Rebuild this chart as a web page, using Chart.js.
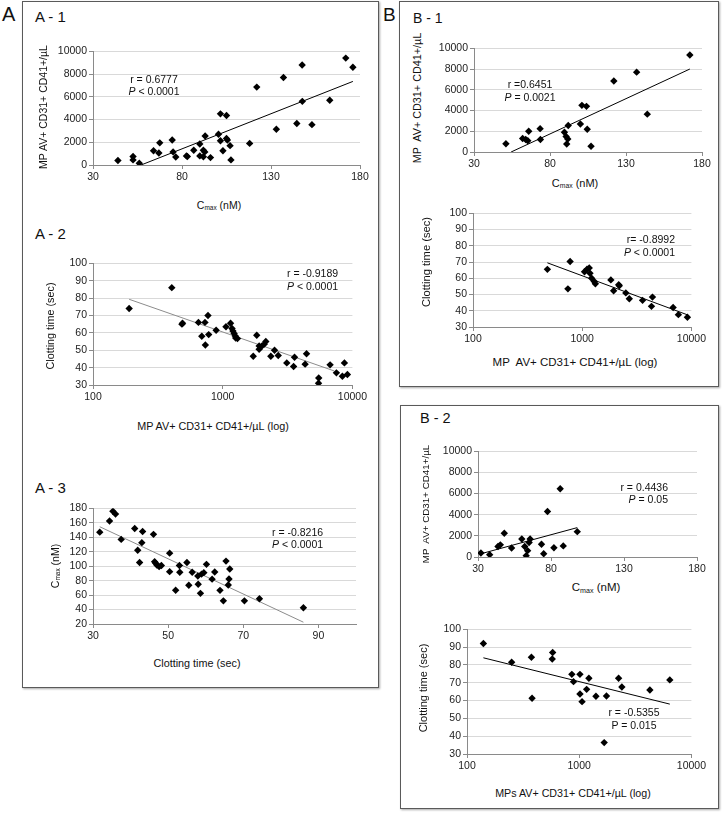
<!DOCTYPE html>
<html>
<head>
<meta charset="utf-8">
<script src="https://cdn.jsdelivr.net/npm/chart.js@4.4.1/dist/chart.umd.min.js"></script>
<style>
  html, body { margin:0; padding:0; background:#fff; }
  body { width:722px; height:816px; position:relative; overflow:hidden; font-family:'Liberation Sans', Arial, sans-serif; color:#111; }
  .box { position:absolute; border:1px solid #5a5a5a; box-shadow:1px 1px 2px rgba(0,0,0,0.35); background:#fff; }
  .t { position:absolute; white-space:nowrap; line-height:1; }
  .rot { transform:translate(-50%,-50%) rotate(-90deg); }
  sub { font-size:62%; vertical-align:-0.25em; line-height:0; }
  canvas { position:absolute; }
</style>
</head>
<body>
<div class="box" style="left:22px;top:1px;width:355px;height:685px;"></div>
<div class="box" style="left:399px;top:1px;width:318px;height:384px;"></div>
<div class="box" style="left:400px;top:405px;width:317px;height:402px;"></div>
<script>
// ---------------- DATA ----------------
// A-1: Cmax (nM) vs MP AV+ CD31+ CD41+/µL
const a1X = [44, 52.5, 52.5, 56, 64, 67, 67.5, 74.5, 75, 76.5, 82.5, 83, 86.6, 90, 90, 92, 92, 92.8, 93, 96, 100.5, 101.6, 101.6, 103, 105, 105, 105.5, 107, 107.5, 118, 122, 133, 137, 144.5, 147.5, 147.6, 153, 163, 172, 176];
const a1Y = [400, 750, 450, 150, 1250, 1050, 1950, 2200, 1150, 700, 800, 750, 1300, 1850, 800, 1300, 730, 1150, 2550, 650, 2700, 4500, 2130, 1250, 4350, 2330, 2190, 1700, 450, 1900, 6850, 3150, 7700, 3650, 8800, 5600, 3550, 5700, 9400, 8600];
const a1TrendX = [57, 176];
const a1TrendY = [0, 7350];

// A-2: MP (log) vs clotting time
const a2X = [190, 405, 485, 490, 650, 730, 770, 690, 735, 780, 890, 1060, 1150, 1180, 1200, 1225, 1250, 1300, 1260, 1830, 1720, 1910, 1910, 2010, 2150, 2090, 2350, 2510, 2680, 3120, 3520, 3580, 4320, 4430, 5500, 5480, 6730, 7530, 8370, 8680, 9150];
const a2Y = [74, 86, 65, 65.5, 66, 66, 70, 58, 53, 59, 61.5, 63.5, 65.5, 62.5, 61, 59.6, 58.2, 56.7, 57, 58.6, 46.5, 50.5, 52.5, 52.5, 55, 53.5, 46.5, 50, 47, 42.7, 40.6, 46, 42, 48, 34, 31, 41.6, 37, 35, 42.7, 36];
const a2TrendX = [190, 7230];
const a2TrendY = [79.3, 38.1];

// A-3: clotting time vs Cmax
const a3X = [31.8, 34.4, 35.3, 36, 37.5, 41.1, 43.2, 41.9, 42.4, 43, 46.1, 46.4, 46.7, 47, 47.6, 48.2, 50.4, 50.4, 52, 53, 53.1, 55, 55.5, 56.4, 57.9, 58, 58.6, 58.9, 59.5, 60.2, 61.7, 62.4, 63.8, 64.7, 65.4, 66, 66.2, 66.4, 70.3, 74.3, 86];
const a3Y = [147, 162.5, 176, 172, 137, 152, 148, 122, 105, 132.5, 144, 106, 104, 101.6, 99.3, 101, 118, 92.4, 66.6, 101, 91.5, 105, 73.5, 91.5, 86.4, 75, 62.4, 89, 91, 102.5, 82, 92, 66.5, 52, 107, 74, 82.3, 96, 52, 55, 42.5];
const a3TrendX = [31.8, 86];
const a3TrendY = [154.5, 22.5];

// B-1 (upper): Cmax vs MP
const b1aX = [51, 62, 64, 66, 65.4, 73.5, 73.7, 89.5, 90.6, 91, 91.7, 92, 100, 101, 104, 104.5, 107, 122, 137, 144, 172];
const b1aY = [800, 1300, 1200, 2000, 1090, 2250, 1200, 1900, 1500, 770, 1250, 2550, 2700, 4500, 4400, 2200, 550, 6850, 7700, 3650, 9350];
const b1aTrendX = [54.4, 172];
const b1aTrendY = [0, 8000];

// B-1 (lower): MP (log) vs clotting time
const b1bX = [480, 740, 775, 1050, 1107, 1160, 1178, 1220, 1290, 1320, 1830, 1940, 2185, 2160, 2510, 2700, 3570, 4400, 4310, 6800, 7600, 9190];
const b1bY = [65.5, 53.5, 70.3, 64, 65.6, 66.4, 63.1, 60, 58, 56.6, 59, 52.3, 55.4, 56, 51, 47.4, 46.4, 48.4, 42.7, 42, 37.6, 36];
const b1bTrendX = [480, 9190];
const b1bTrendY = [69.5, 37.5];

// B-2 (upper): Cmax vs MP
const b2aX = [32, 38, 43.7, 45.3, 48, 53, 60, 62, 63, 64, 65, 65.7, 73.5, 75, 77.6, 82, 86.3, 88.4, 98];
const b2aY = [375, 220, 1000, 1150, 2250, 850, 1700, 1000, 130, 600, 1375, 1700, 1200, 310, 4300, 875, 6450, 1050, 2400];
const b2aTrendX = [31.8, 98];
const b2aTrendY = [300, 2780];

// B-2 (lower): MPs (log) vs clotting time
const b2bX = [140, 250, 375, 380, 580, 575, 860, 890, 1015, 1016, 1060, 1165, 1220, 1410, 1750, 1670, 2245, 2400, 4265, 6420];
const b2bY = [92, 81.5, 84.3, 61.3, 87, 83.3, 74.7, 70.6, 74.7, 63.7, 59.4, 66.3, 72.5, 62.4, 62.6, 36.4, 72.5, 67.6, 65.9, 71.6];
const b2bTrendX = [140, 6420];
const b2bTrendY = [84, 58];

// Tick labels
const cmaxTicks = [30, 80, 130, 180];
const mpTicks = [0, 2000, 4000, 6000, 8000, 10000];
const logTicks = [100, 1000, 10000];
const ctTicks = [30, 40, 50, 60, 70, 80, 90, 100];
const ctTicksA3 = [30, 50, 70, 90];
const cmaxTicksA3 = [20, 40, 60, 80, 100, 120, 140, 160, 180];

// ---------------- DRAWING ----------------
const FONT = "'Liberation Sans', Arial, sans-serif";
const PAD_L = 48, PAD_T = 8, PAD_R = 16, PAD_B = 24;

function pts(xs, ys) { return xs.map((x, i) => ({ x: x, y: ys[i] })); }

function makeChart(plot, xs, ys, tx, ty, xAx, yAx, trendColor) {
  const cv = document.createElement('canvas');
  const left = plot.l - PAD_L, top = plot.t - PAD_T;
  const w = plot.r - left + PAD_R, h = plot.b - top + PAD_B;
  cv.style.left = left + 'px'; cv.style.top = top + 'px';
  cv.style.width = w + 'px'; cv.style.height = h + 'px';
  cv.width = w; cv.height = h;
  document.body.appendChild(cv);
  const tickFont = { family: FONT, size: 10.5 };
  new Chart(cv, {
    type: 'scatter',
    data: {
      datasets: [
        { data: pts(xs, ys), pointStyle: 'rectRot', pointRadius: 3.7, pointHoverRadius: 3.7,
          backgroundColor: '#000', borderColor: '#000', borderWidth: 0, order: 0 },
        { data: pts(tx, ty), showLine: true, pointRadius: 0, borderColor: trendColor,
          borderWidth: 1, fill: false, order: 1 }
      ]
    },
    options: {
      responsive: false, animation: false, maintainAspectRatio: false,
      layout: { padding: { left: 0, top: PAD_T, right: PAD_R, bottom: 0 } },
      plugins: { legend: { display: false }, tooltip: { enabled: false } },
      scales: {
        x: {
          type: xAx.type, min: xAx.min, max: xAx.max,
          afterBuildTicks: s => { s.ticks = xAx.ticks.map(v => ({ value: v })); },
          afterFit: s => { s.height = PAD_B; },
          grid: { drawOnChartArea: false, drawTicks: true, tickLength: 4, tickColor: '#8a8a8a' },
          border: { display: true, color: '#8a8a8a', width: 1 },
          ticks: { font: tickFont, color: '#222', padding: 2, maxRotation: 0, autoSkip: false,
                   callback: v => String(v) }
        },
        y: {
          type: 'linear', min: yAx.min, max: yAx.max,
          afterBuildTicks: s => { s.ticks = yAx.ticks.map(v => ({ value: v })); },
          afterFit: s => { s.width = PAD_L; },
          grid: { color: '#d9d9d9', drawTicks: true, tickLength: 4, tickColor: '#8a8a8a' },
          border: { display: true, color: '#8a8a8a', width: 1 },
          ticks: { font: tickFont, color: '#222', padding: 2, autoSkip: false,
                   callback: v => String(v) }
        }
      }
    }
  });
}

makeChart({ l: 93, t: 51, r: 360, b: 165 }, a1X, a1Y, a1TrendX, a1TrendY,
  { type: 'linear', min: 30, max: 180, ticks: cmaxTicks }, { min: 0, max: 10000, ticks: mpTicks }, '#000');
makeChart({ l: 93, t: 263, r: 353, b: 385 }, a2X, a2Y, a2TrendX, a2TrendY,
  { type: 'logarithmic', min: 100, max: 10000, ticks: logTicks }, { min: 30, max: 100, ticks: ctTicks }, '#8c8c8c');
makeChart({ l: 93, t: 508, r: 356, b: 624 }, a3X, a3Y, a3TrendX, a3TrendY,
  { type: 'linear', min: 30, max: 100, ticks: ctTicksA3 }, { min: 20, max: 180, ticks: cmaxTicksA3 }, '#8c8c8c');
makeChart({ l: 474, t: 48, r: 702, b: 152 }, b1aX, b1aY, b1aTrendX, b1aTrendY,
  { type: 'linear', min: 30, max: 180, ticks: cmaxTicks }, { min: 0, max: 10000, ticks: mpTicks }, '#000');
makeChart({ l: 473, t: 213, r: 692, b: 327 }, b1bX, b1bY, b1bTrendX, b1bTrendY,
  { type: 'logarithmic', min: 100, max: 10000, ticks: logTicks }, { min: 30, max: 100, ticks: ctTicks }, '#000');
makeChart({ l: 478, t: 451, r: 697, b: 557 }, b2aX, b2aY, b2aTrendX, b2aTrendY,
  { type: 'linear', min: 30, max: 180, ticks: cmaxTicks }, { min: 0, max: 10000, ticks: mpTicks }, '#000');
makeChart({ l: 467, t: 629, r: 692, b: 754 }, b2bX, b2bY, b2bTrendX, b2bTrendY,
  { type: 'logarithmic', min: 100, max: 10000, ticks: logTicks }, { min: 30, max: 100, ticks: ctTicks }, '#000');

// ---------------- TEXT ----------------
function txt(html, x, y, size, align, rot) {
  const d = document.createElement('div');
  d.className = 't' + (rot ? ' rot' : '');
  d.innerHTML = html;
  d.style.fontSize = size + 'px';
  d.style.left = x + 'px'; d.style.top = y + 'px';
  if (!rot) {
    const tx = align === 'center' ? '-50%' : (align === 'right' ? '-100%' : '0');
    d.style.transform = 'translate(' + tx + ',-50%)';
  }
  document.body.appendChild(d);
}
const CMAX = 'C<sub>max</sub> (nM)';
const MP = 'MP AV+ CD31+ CD41+/µL';
const MP2 = 'MP&nbsp; AV+ CD31+ CD41+/µL';
const CT = 'Clotting time (sec)';

// panel letters & titles
txt('A', 2, 14, 20, 'left');
txt('B', 383, 14, 19, 'left');
txt('A - 1', 35, 16, 15, 'left');
txt('A - 2', 35, 233, 15, 'left');
txt('A - 3', 35, 487, 15, 'left');
txt('B - 1', 413, 18, 14, 'left');
txt('B - 2', 420, 418, 14.5, 'left');

// axis titles
txt(MP, 43, 107, 10.5, 'center', true);
txt(CMAX, 219, 205, 10.5, 'center');
txt(CT, 50, 326, 10.8, 'center', true);
txt(MP + ' (log)', 213, 426, 10.8, 'center');
txt(CMAX, 55, 566, 10.5, 'center', true);
txt(CT, 197, 663, 10.8, 'center');
txt(MP2, 417, 98, 10.8, 'center', true);
txt(CMAX, 575, 183, 11, 'center');
txt(CT, 427, 262, 11.2, 'center', true);
txt(MP2 + ' (log)', 575, 363, 11.5, 'center');
txt(MP2, 426, 504, 9.8, 'center', true);
txt(CMAX, 596, 588, 11.5, 'center');
txt(CT, 423, 688, 11, 'center', true);
txt('MPs AV+ CD31+ CD41+/µL (log)', 573, 793, 10.7, 'center');

// statistics
txt('r = 0.6777', 154, 79, 10.5, 'center');
txt('<i>P</i> &lt; 0.0001', 154, 91, 10.5, 'center');
txt('r = -0.9189', 287, 273, 10.5, 'left');
txt('<i>P</i> &lt; 0.0001', 287, 286, 10.5, 'left');
txt('r = -0.8216', 272, 532, 10.5, 'left');
txt('<i>P</i> &lt; 0.0001', 272, 544, 10.5, 'left');
txt('r =0.6451', 530, 84, 10.5, 'center');
txt('<i>P</i> = 0.0021', 530, 97, 10.5, 'center');
txt('r= -0.8992', 675, 239, 10.5, 'right');
txt('<i>P</i> &lt; 0.0001', 675, 252, 10.5, 'right');
txt('r = 0.4436', 668, 487, 10.5, 'right');
txt('<i>P</i> = 0.05', 668, 499, 10.5, 'right');
txt('r = -0.5355', 634, 712, 10.5, 'center');
txt('P = 0.015', 634, 725, 10.5, 'center');
</script>
</body>
</html>
